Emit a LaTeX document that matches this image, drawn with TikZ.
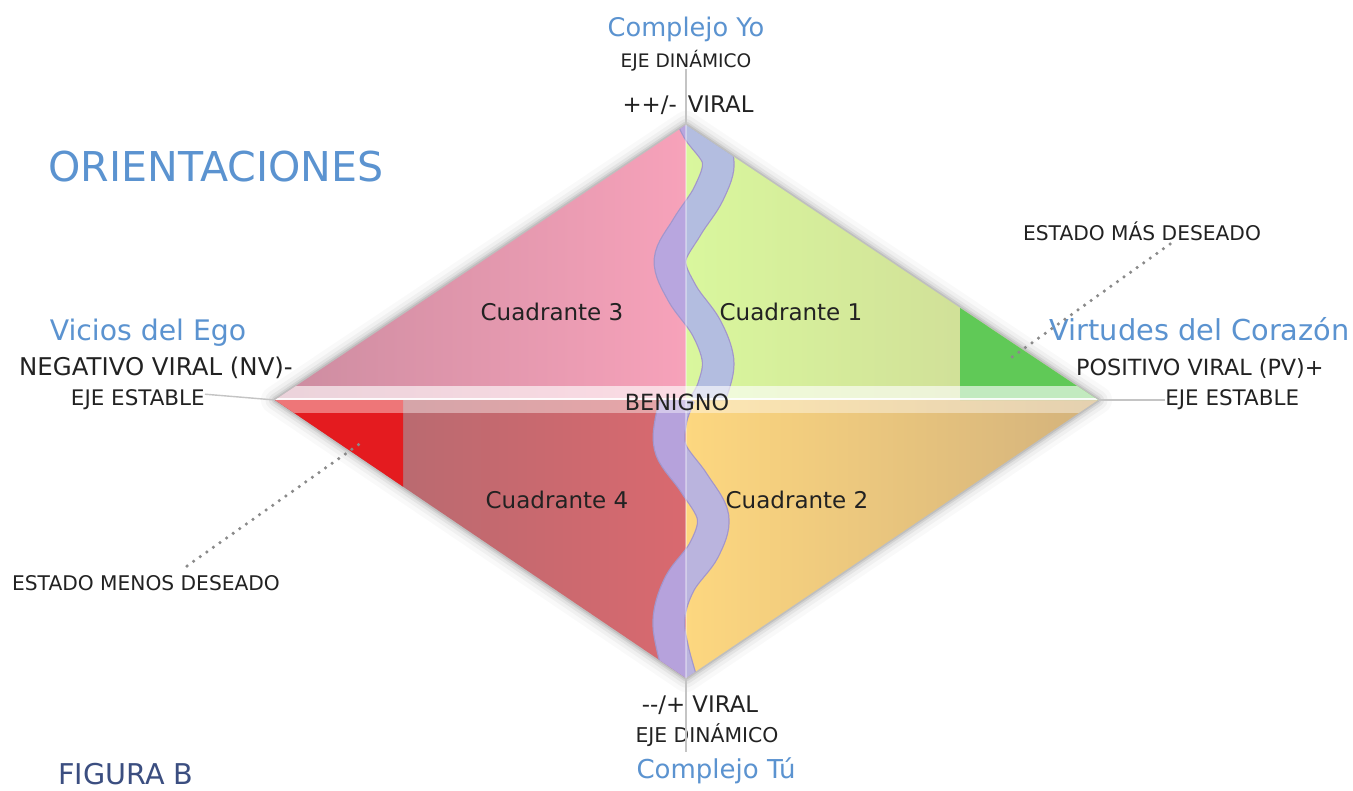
\documentclass[tikz,border=0pt]{standalone}
\usepackage{fontspec}
\setmainfont{DejaVu Sans}
\usetikzlibrary{calc}
\definecolor{titleblue}{HTML}{5B93D0}
\definecolor{txtdark}{HTML}{222222}
\definecolor{figblue}{HTML}{3B4E80}
\definecolor{axisgray}{HTML}{C4C4C4}
\definecolor{dotgray}{HTML}{8A8A8A}
\definecolor{ulA}{HTML}{CC8CA0}
\definecolor{ulB}{HTML}{F7A2BA}
\definecolor{urA}{HTML}{D9F79D}
\definecolor{urB}{HTML}{CDD596}
\definecolor{llA}{HTML}{AC6A70}
\definecolor{llB}{HTML}{D9696F}
\definecolor{lrA}{HTML}{FDD77F}
\definecolor{lrB}{HTML}{D3B27C}
\definecolor{greenst}{HTML}{60C957}
\definecolor{redst}{HTML}{E41B1F}
\definecolor{waveL}{HTML}{B8A6DF}
\definecolor{waveR}{HTML}{B3BDE0}
\definecolor{waveLL}{HTML}{B6A2DC}
\definecolor{waveLR}{HTML}{BAB4DE}
\definecolor{waveedge}{HTML}{A296CC}
\newcommand\upwavepath[1]{\draw[#1] plot[smooth, tension=0.6] coordinates {(688,108) (698,130) (718,160) (709,193) (687,227) (670,260) (682,293) (706,327) (718,360) (713,388) (704,405)};}
\newcommand\lowwavepath[1]{\draw[#1] plot[smooth, tension=0.6] coordinates {(680,395) (671,420) (671,450) (694,483) (713,517) (704,550) (680,583) (669,617) (673,650) (686,695)};}
\begin{document}
\begin{tikzpicture}[x=0.02cm,y=-0.02cm,
  lbl/.style={inner sep=0pt, anchor=base, text=txtdark},
  bluehead/.style={inner sep=0pt, anchor=base, text=titleblue},
  axisline/.style={draw=axisgray, line width=0.8pt},
  dotline/.style={draw=dotgray, line width=2pt, line cap=round, dash pattern=on 0pt off 4.6pt},
  waveout/.style={draw=waveedge, line width=18.6pt},
  qlabel/.style={lbl, font=\fontsize{13.1}{15}\selectfont},
]
\useasboundingbox (0,0) rectangle (1353,791);
\fill[white] (0,0) rectangle (1353,791);

\coordinate (T) at (686,125);
\coordinate (L) at (275,400);
\coordinate (R) at (1098,400);
\coordinate (B) at (686,678);
\coordinate (C) at (686,400);

% soft shadow
\foreach \w/\o in {16/0.025,11/0.035,7/0.05,4/0.07,2/0.09}{
  \draw[line width=\w pt, black, opacity=\o, line join=round] (T)--(R)--(B)--(L)--cycle;
}

% quadrants
\shade[left color=ulA, right color=ulB] (T) -- (L) -- (C) -- cycle;
\shade[left color=urA, right color=urB] (T) -- (R) -- (C) -- cycle;
\shade[left color=llA, right color=llB] (L) -- (B) -- (C) -- cycle;
\shade[left color=lrA, right color=lrB] (R) -- (B) -- (C) -- cycle;
\fill[greenst] (960,307.9) -- (R) -- (960,400) -- cycle;
\fill[redst] (L) -- (403,400) -- (403,486.6) -- cycle;

% waves
\begin{scope}
  \clip (T) -- (L) -- (C) -- cycle;
  \upwavepath{waveout}
  \upwavepath{draw=waveL, line width=17.2pt}
\end{scope}
\begin{scope}
  \clip (T) -- (R) -- (C) -- cycle;
  \upwavepath{waveout}
  \upwavepath{draw=waveR, line width=17.2pt}
\end{scope}
\begin{scope}
  \clip (L) -- (B) -- (C) -- cycle;
  \lowwavepath{waveout}
  \lowwavepath{draw=waveLL, line width=17.2pt}
\end{scope}
\begin{scope}
  \clip (R) -- (B) -- (C) -- cycle;
  \lowwavepath{waveout}
  \lowwavepath{draw=waveLR, line width=17.2pt}
\end{scope}
\draw[white, opacity=0.35, line width=0.6pt] (T) -- (B);

% benign band
\begin{scope}
  \clip (T)--(R)--(B)--(L)--cycle;
  \fill[white, opacity=0.62] (0,386) rectangle (1353,399);
  \fill[white, opacity=0.4] (0,399) rectangle (1353,413);
  \draw[white, opacity=0.9, line width=1pt] (0,399) -- (1353,399);
\end{scope}

% axis lines and labels
\node[bluehead, font=\fontsize{14.6}{16}\selectfont] (cyo) at (686,36) {Complejo Yo};
\node[lbl, font=\fontsize{10.6}{12}\selectfont] (edtop) at (686,67) {EJE DINÁMICO};
\node[lbl, font=\fontsize{13}{15}\selectfont] (vtop) at (688,112) {+{}+/-\, VIRAL};
\coordinate (topax) at (686,69);
\draw[axisline] (topax) -- (T);

\node[lbl, font=\fontsize{13}{15}\selectfont] (vbot) at (700,712) {-{}-/+ VIRAL};
\node[lbl, font=\fontsize{11.6}{13}\selectfont] (edbot) at (707,742) {EJE DINÁMICO};
\node[bluehead, font=\fontsize{14.8}{16}\selectfont] (ctu) at (716,778) {Complejo Tú};
\coordinate (botax) at (686,752);
\draw[axisline] (B) -- (botax);

\node[bluehead, font=\fontsize{23.4}{26}\selectfont] (orient) at (216,181) {ORIENTACIONES};

\node[bluehead, font=\fontsize{16.1}{18}\selectfont] (vicios) at (148,340) {Vicios del Ego};
\node[lbl, font=\fontsize{13.9}{16}\selectfont] (nv) at (156,375) {NEGATIVO VIRAL (NV)-};
\node[lbl, font=\fontsize{12.2}{14}\selectfont, anchor=base east] (eel) at (205,405) {EJE ESTABLE};
\draw[axisline] (eel.east) ++(0,-5) coordinate (eelend) -- (L);

\node[bluehead, font=\fontsize{16.4}{18}\selectfont, anchor=base east] (virt) at (1350,340) {Virtudes del Corazón};
\node[lbl, font=\fontsize{12.7}{14}\selectfont, anchor=base east] (pv) at (1324,375) {POSITIVO VIRAL (PV)+};
\node[lbl, font=\fontsize{12.2}{14}\selectfont, anchor=base west] (eer) at (1165,405) {EJE ESTABLE};
\draw[axisline] (R) -- (eer.west |- R);

\node[lbl, font=\fontsize{11.5}{13}\selectfont] (emas) at (1142,240) {ESTADO MÁS DESEADO};
\coordinate (emasend) at (1008,360);
\draw[dotline] (1170,244) -- (emasend);

\node[lbl, font=\fontsize{11.5}{13}\selectfont] (emenos) at (146,590) {ESTADO MENOS DESEADO};
\coordinate (emenosend) at (365,440);
\draw[dotline] (187,566) -- (emenosend);

\node[qlabel] (q3) at (552,320) {Cuadrante 3};
\node[qlabel] (q1) at (791,320) {Cuadrante 1};
\node[qlabel] (q4) at (557,508) {Cuadrante 4};
\node[qlabel] (q2) at (797,508) {Cuadrante 2};
\node[lbl, font=\fontsize{12.7}{14}\selectfont] (ben) at (677,410) {BENIGNO};

\node[inner sep=0pt, anchor=base, text=figblue, font=\fontsize{16.3}{18}\selectfont] (fig) at (126,784) {FIGURA B};
\end{tikzpicture}
\end{document}
